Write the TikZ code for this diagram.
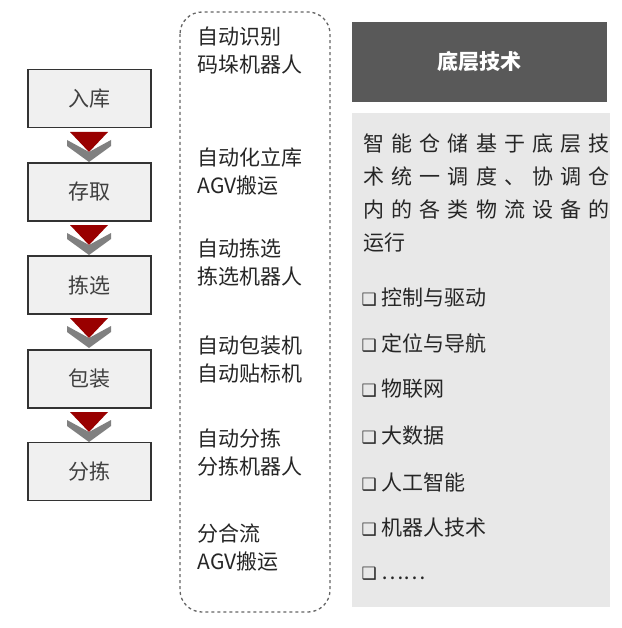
\documentclass[tikz,border=0pt]{standalone}
\usepackage{fontspec}
\setmainfont{Noto Sans CJK SC}
\newfontfamily\dv{DejaVu Sans}
\begin{document}
\begin{tikzpicture}[x=1pt,y=-1pt,
  stepbox/.style={draw=black!80,line width=1.2pt,fill=black!6,minimum width=123pt,minimum height=58pt,font=\fontsize{21}{21}\selectfont,text=black!75},
  mid/.style={anchor=west,font=\fontsize{21}{28}\selectfont,text=black!85,align=left},
  item/.style={anchor=west,font=\fontsize{21}{21}\selectfont,text=black!85}]
\useasboundingbox (0,0) rectangle (621,628);
\fill[white] (0,0) rectangle (621,628);
\foreach \n/\t/\y in {a/入库/98.5,b/存取/192,c/拣选/285,d/包装/379,e/分拣/471.5}
  \node[stepbox] (\n) at (89.5,\y) {\t};
\foreach \y in {130,223,316,410}{
  \fill[black!50] (67,\y+10) -- (89,\y+22) -- (111,\y+10) -- (111,\y+16) -- (89,\y+32) -- (67,\y+16) -- cycle;
  \fill[red!60!black] (70,\y+2) -- (108,\y+2) -- (89,\y+22) -- cycle;
}
\draw[dashed,line width=1.3pt,black!60,rounded corners=22pt] (180,12) rectangle (330,612);
\foreach \t/\y in {{自动识别\\码垛机器人}/51,{自动化立库\\AGV搬运}/171,{自动拣选\\拣选机器人}/262,{自动包装机\\自动贴标机}/359,{自动分拣\\分拣机器人}/452,{分合流\\AGV搬运}/548}
  \node[mid] at (194,\y) {\t};
\fill[black!65] (352,22) rectangle (607,102);
\node[text=white,font=\fontsize{21}{21}\selectfont\bfseries] (h) at (479.5,62) {底层技术};
\fill[black!9] (352,113) rectangle (610,607);
\node[anchor=north west,text width=246pt,align=justify,font=\fontsize{21}{33}\selectfont,text=black!85] (p) at (360,130)
 {智\hfill 能\hfill 仓\hfill 储\hfill 基\hfill 于\hfill 底\hfill 层\hfill 技\\术\hfill 统\hfill 一\hfill 调\hfill 度\hfill 、\hfill 协\hfill 调\hfill 仓\\内\hfill 的\hfill 各\hfill 类\hfill 物\hfill 流\hfill 设\hfill 备\hfill 的\\运行};
\foreach \t/\y in {控制与驱动/297,定位与导航/343,物联网/389,大数据/436,人工智能/482,机器人技术/528,……/574}
  \node[item] at (358,\y) {{\dv\bfseries\fontsize{17}{17}\selectfont ❑} \t};
\end{tikzpicture}
\end{document}
